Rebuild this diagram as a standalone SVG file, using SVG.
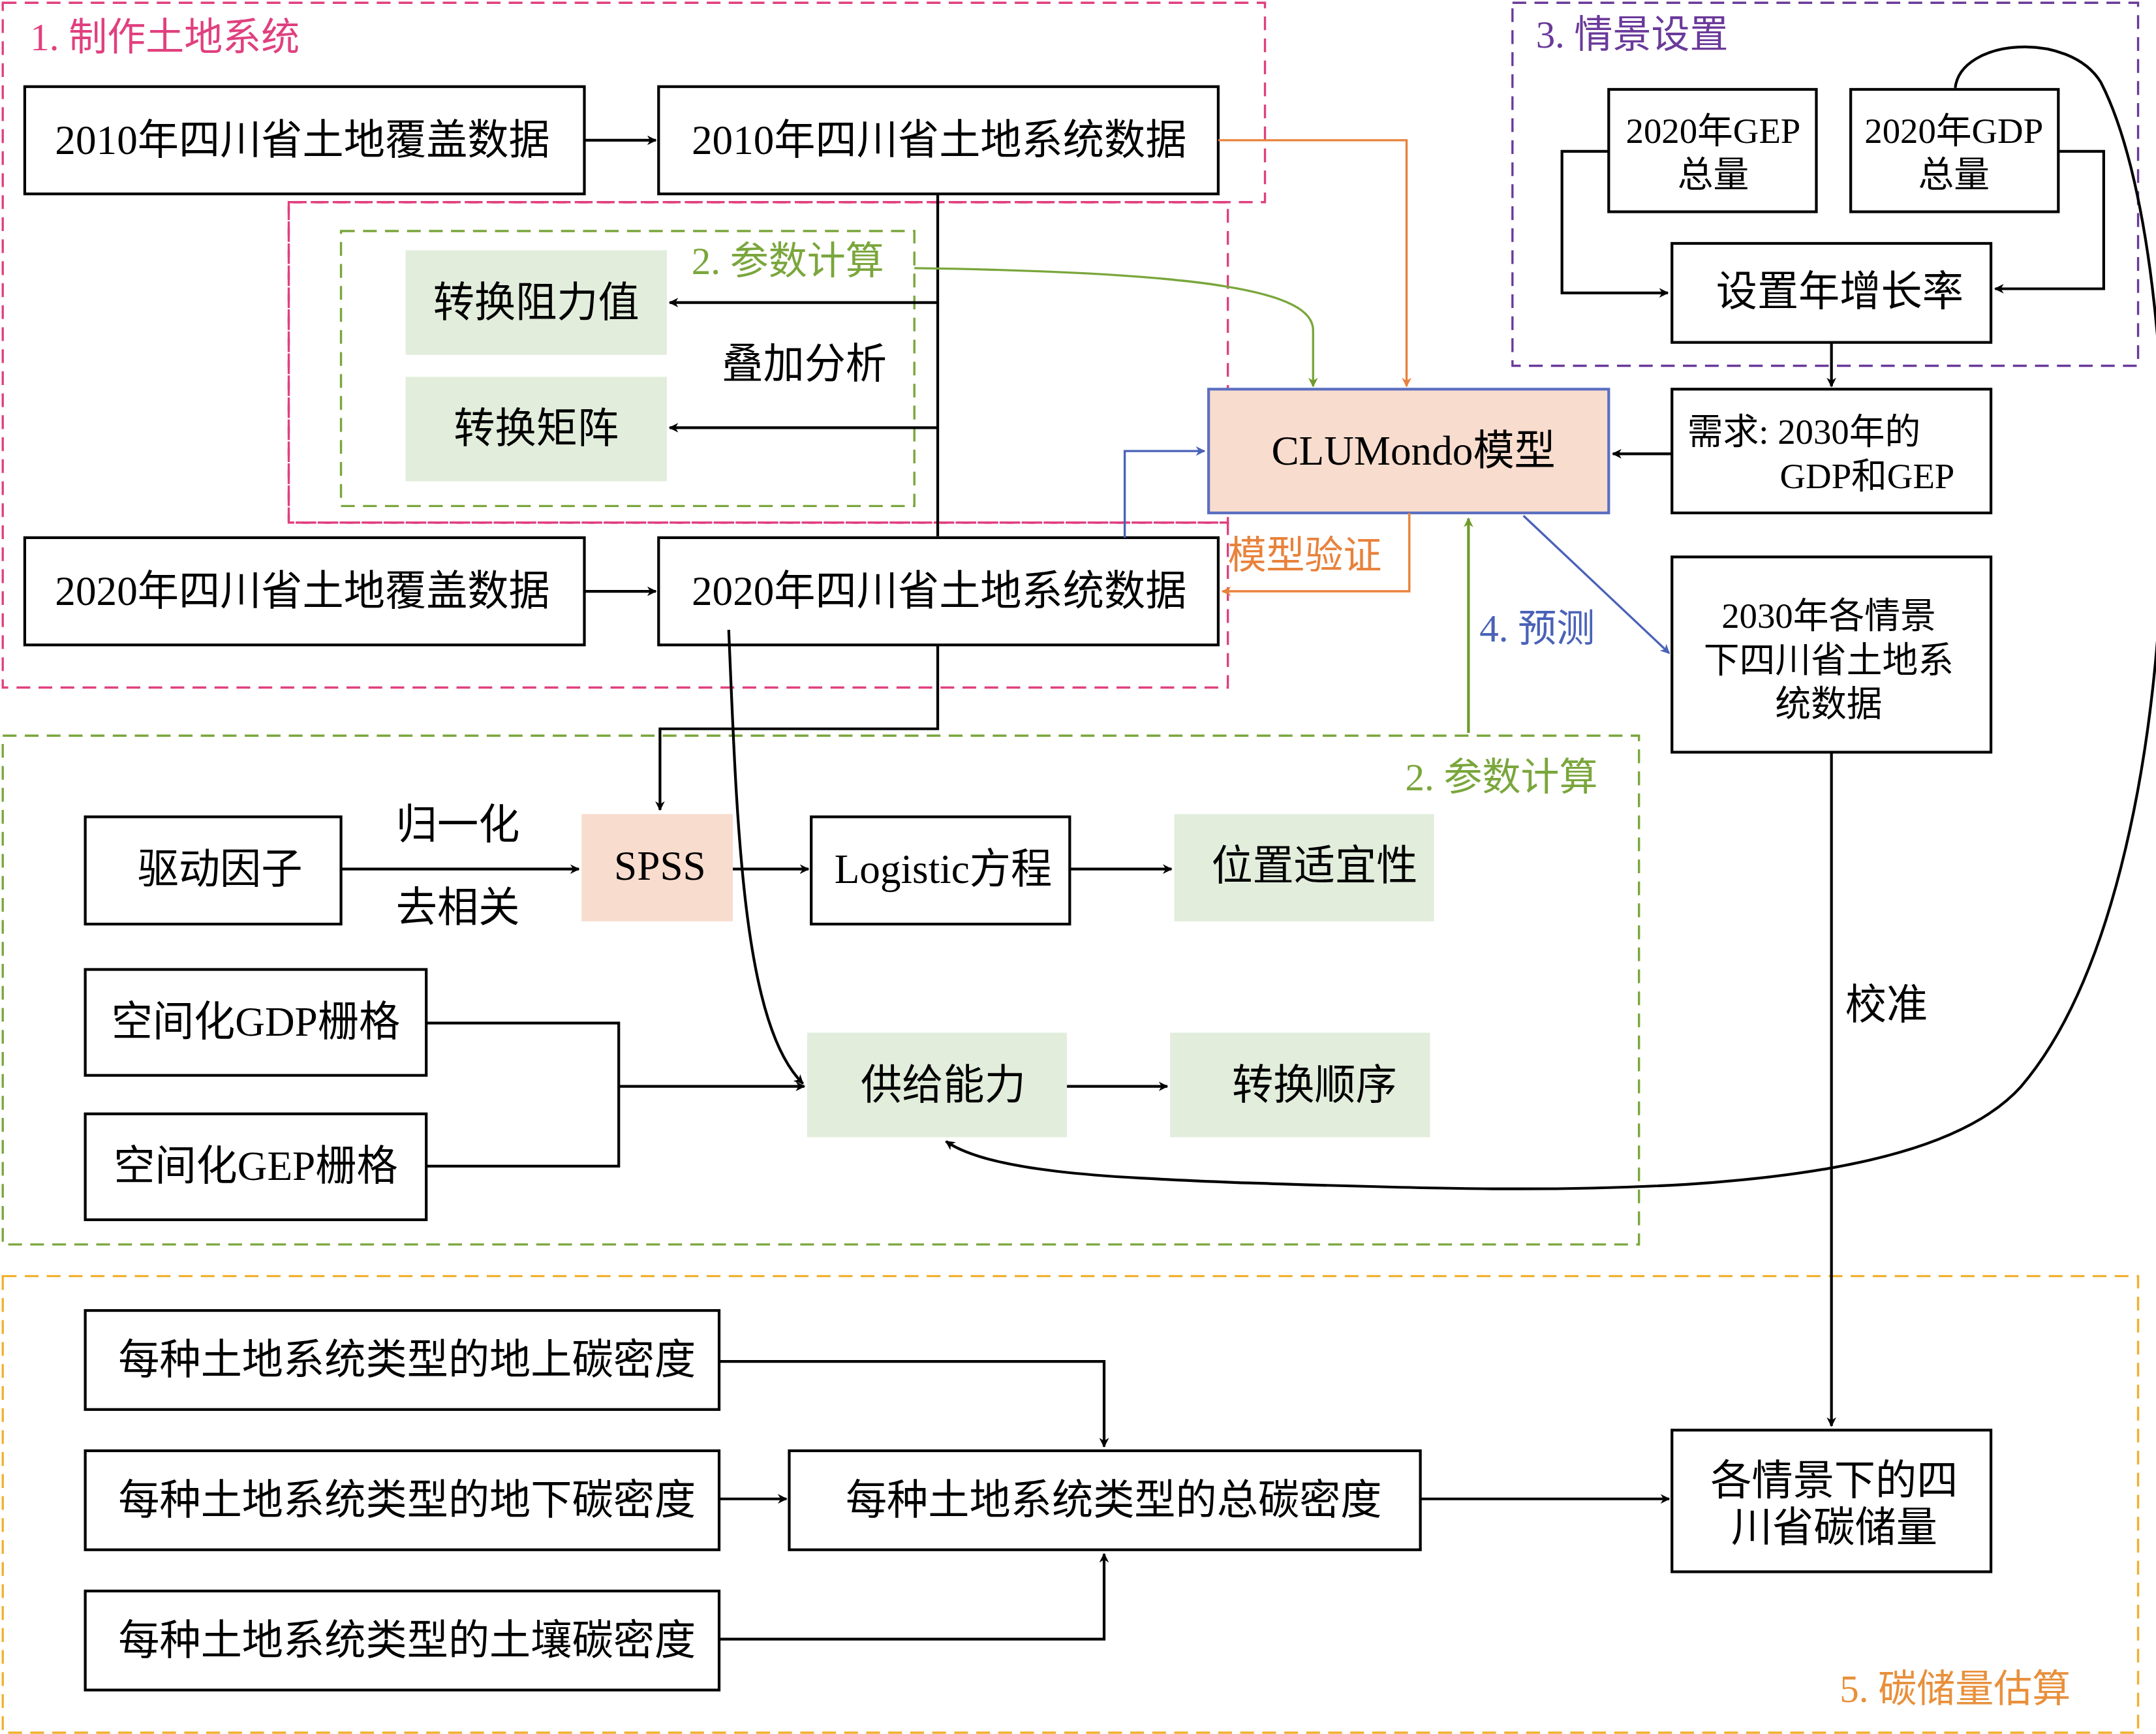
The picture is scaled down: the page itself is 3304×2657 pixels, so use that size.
<svg xmlns="http://www.w3.org/2000/svg" width="3304" height="2657" viewBox="0 0 3304 2657">
<defs>
<marker id="ak" viewBox="0 0 10 10" refX="9" refY="5" markerWidth="7" markerHeight="7" orient="auto" markerUnits="userSpaceOnUse"><path d="M0,0 L10,5 L0,10 L3,5z" fill="#000"/></marker>
<marker id="ao" viewBox="0 0 10 10" refX="9" refY="5" markerWidth="7" markerHeight="7" orient="auto" markerUnits="userSpaceOnUse"><path d="M0,0 L10,5 L0,10 L3,5z" fill="#e8823c"/></marker>
<marker id="ag" viewBox="0 0 10 10" refX="9" refY="5" markerWidth="7" markerHeight="7" orient="auto" markerUnits="userSpaceOnUse"><path d="M0,0 L10,5 L0,10 L3,5z" fill="#6f9a2c"/></marker>
<marker id="ab" viewBox="0 0 10 10" refX="9" refY="5" markerWidth="7" markerHeight="7" orient="auto" markerUnits="userSpaceOnUse"><path d="M0,0 L10,5 L0,10 L3,5z" fill="#4a62b8"/></marker>
</defs>
<style>
text{font-family:"Liberation Serif","Noto Sans CJK SC",serif;font-size:30px;fill:#000;text-anchor:middle;dominant-baseline:central}
.lb{text-anchor:start;font-size:28px}
.s{font-size:26px}
.b{fill:#fff;stroke:#000;stroke-width:2}
.g{fill:#e2eddc}
.c{fill:none;stroke:#000;stroke-width:2}
.reg{fill:none;stroke-width:1.6;stroke-dasharray:10 6}
</style>
<rect width="3304" height="2657" fill="#fff"/>
<g transform="scale(2.1071)">
<g id="regions">
<path class="reg" stroke="#e0407f" d="M2,2 H920 V147 H210 V380 H893 V500 H2 Z"/>
<rect class="reg" stroke="#e0407f" x="210" y="147" width="683" height="233"/>
<rect class="reg" stroke="#7aa63c" x="248" y="168" width="417" height="200"/>
<rect class="reg" stroke="#6a3a9a" x="1100" y="2" width="455" height="264"/>
<rect class="reg" stroke="#7aa63c" x="2" y="535" width="1190" height="370"/>
<rect class="reg" stroke="#f0b030" x="2" y="928" width="1553" height="332"/>
<text class="lb" x="22" y="27" fill="#e0407f" style="fill:#e0407f">1. 制作土地系统</text>
<text class="lb" x="503" y="190" style="fill:#7aa63c">2. 参数计算</text>
<text class="lb" x="1117" y="25" style="fill:#6a3a9a">3. 情景设置</text>
<text class="lb" x="1022" y="565" style="fill:#7aa63c">2. 参数计算</text>
<text class="lb" x="1338" y="1228" style="fill:#e8903c">5. 碳储量估算</text>
</g>
<g id="nodes">
<g id="n1"><rect class="b" x="18" y="63" width="407" height="78"/><text x="220" y="102">2010年四川省土地覆盖数据</text></g>
<g id="n2"><rect class="b" x="479" y="63" width="407" height="78"/><text x="683" y="102">2010年四川省土地系统数据</text></g>
<g id="n3"><rect class="g" x="295" y="182" width="190" height="76"/><text x="390" y="220">转换阻力值</text></g>
<g id="n4"><rect class="g" x="295" y="274" width="190" height="76"/><text x="390" y="312">转换矩阵</text></g>
<g id="n5"><rect x="879" y="283" width="291" height="90" fill="#f8dccd" stroke="#5b6fc0" stroke-width="2"/><text x="1028" y="328">CLUMondo模型</text></g>
<g id="n6"><rect class="b" x="18" y="391" width="407" height="78"/><text x="220" y="430">2020年四川省土地覆盖数据</text></g>
<g id="n7"><rect class="b" x="479" y="391" width="407" height="78"/><text x="683" y="430">2020年四川省土地系统数据</text></g>
<g id="n8"><rect class="b" x="1170" y="65" width="151" height="89"/><text class="s" x="1246" y="95">2020年GEP</text><text class="s" x="1246" y="127">总量</text></g>
<g id="n9"><rect class="b" x="1346" y="65" width="151" height="89"/><text class="s" x="1421" y="95">2020年GDP</text><text class="s" x="1421" y="127">总量</text></g>
<g id="n10"><rect class="b" x="1216" y="177" width="232" height="72"/><text x="1338" y="212">设置年增长率</text></g>
<g id="n11"><rect class="b" x="1216" y="283" width="232" height="90"/><text class="s" x="1312" y="314">需求: 2030年的</text><text class="s" x="1358" y="346">GDP和GEP</text></g>
<g id="n12"><rect class="b" x="1216" y="405" width="232" height="142"/><text class="s" x="1330" y="448">2030年各情景</text><text class="s" x="1330" y="480">下四川省土地系</text><text class="s" x="1330" y="512">统数据</text></g>
<g id="n13"><rect class="b" x="62" y="594" width="186" height="78"/><text x="160" y="632">驱动因子</text></g>
<g id="n14"><rect x="423" y="592" width="110" height="78" fill="#f8dccd"/><text x="480" y="630">SPSS</text></g>
<g id="n15"><rect class="b" x="590" y="594" width="188" height="78"/><text x="686" y="632">Logistic方程</text></g>
<g id="n16"><rect class="g" x="854" y="592" width="189" height="78"/><text x="956" y="630">位置适宜性</text></g>
<g id="n17"><rect class="b" x="62" y="705" width="248" height="77"/><text x="186" y="743">空间化GDP栅格</text></g>
<g id="n18"><rect class="b" x="62" y="810" width="248" height="77"/><text x="186" y="848">空间化GEP栅格</text></g>
<g id="n19"><rect class="g" x="587" y="751" width="189" height="76"/><text x="686" y="789">供给能力</text></g>
<g id="n20"><rect class="g" x="851" y="751" width="189" height="76"/><text x="956" y="789">转换顺序</text></g>
<g id="n21"><rect class="b" x="62" y="953" width="461" height="72"/><text x="296" y="989">每种土地系统类型的地上碳密度</text></g>
<g id="n22"><rect class="b" x="62" y="1055" width="461" height="72"/><text x="296" y="1091">每种土地系统类型的地下碳密度</text></g>
<g id="n23"><rect class="b" x="62" y="1157" width="461" height="72"/><text x="296" y="1193">每种土地系统类型的土壤碳密度</text></g>
<g id="n24"><rect class="b" x="574" y="1055" width="459" height="72"/><text x="810" y="1091">每种土地系统类型的总碳密度</text></g>
<g id="n25"><rect class="b" x="1216" y="1040" width="232" height="103"/><text x="1334" y="1077">各情景下的四</text><text x="1334" y="1111">川省碳储量</text></g>
</g>
<g id="connectors">
<path class="c" marker-end="url(#ak)" d="M425,102 H477"/>
<path class="c" d="M682,141 V390"/>
<path class="c" marker-end="url(#ak)" d="M682,220 H487"/>
<path class="c" marker-end="url(#ak)" d="M682,311 H487"/>
<text x="585" y="265">叠加分析</text>
<path fill="none" stroke="#7aa63c" stroke-width="1.6" marker-end="url(#ag)" d="M665,195 C880,198 955,212 955,240 V281"/>
<path fill="none" stroke="#e8823c" stroke-width="1.6" marker-end="url(#ao)" d="M886,102 H1023 V281"/>
<path fill="none" stroke="#4a62b8" stroke-width="1.6" marker-end="url(#ab)" d="M818,391 V328 H876"/>
<path class="c" marker-end="url(#ak)" d="M425,430 H477"/>
<path fill="none" stroke="#e8823c" stroke-width="1.6" marker-end="url(#ao)" d="M1025,373 V430 H889"/>
<text class="lb" x="893" y="404" style="fill:#e8823c">模型验证</text>
<path fill="none" stroke="#6f9a2c" stroke-width="2" marker-end="url(#ag)" d="M1068,533 V377"/>
<text class="lb" x="1076" y="457" style="fill:#4a62b8">4. 预测</text>
<path fill="none" stroke="#4a62b8" stroke-width="1.6" marker-end="url(#ab)" d="M1108,375 L1214,475"/>
<path class="c" marker-end="url(#ak)" d="M1170,110 H1136 V213 H1213"/>
<path class="c" marker-end="url(#ak)" d="M1497,110 H1530 V210 H1451"/>
<path class="c" marker-end="url(#ak)" d="M1332,249 V281"/>
<path class="c" marker-end="url(#ak)" d="M1216,330 H1173"/>
<path class="c" marker-end="url(#ak)" d="M1332,547 V1037"/>
<text x="1372" y="731">校准</text>
<path class="c" marker-end="url(#ak)" d="M1422,64 C1426,28 1505,22 1528,60 C1595,190 1598,640 1470,790 C1390,880 1100,866 900,860 C800,856 720,852 688,830"/>
<path class="c" marker-end="url(#ak)" d="M682,469 V530 H480 V589"/>
<path class="c" marker-end="url(#ak)" d="M248,632 H421"/>
<text x="333" y="600">归一化</text>
<text x="333" y="660">去相关</text>
<path class="c" marker-end="url(#ak)" d="M533,632 H588"/>
<path class="c" marker-end="url(#ak)" d="M778,632 H852"/>
<path class="c" d="M310,744 H450 V848 H310"/>
<path class="c" marker-end="url(#ak)" d="M450,790 H585"/>
<path class="c" marker-end="url(#ak)" d="M776,790 H849"/>
<path class="c" marker-end="url(#ak)" d="M530,458 C536,600 540,745 584,788"/>
<path class="c" marker-end="url(#ak)" d="M523,990 H803 V1052"/>
<path class="c" marker-end="url(#ak)" d="M523,1090 H572"/>
<path class="c" marker-end="url(#ak)" d="M523,1192 H803 V1130"/>
<path class="c" marker-end="url(#ak)" d="M1033,1090 H1214"/>
</g>
</g>
</svg>
